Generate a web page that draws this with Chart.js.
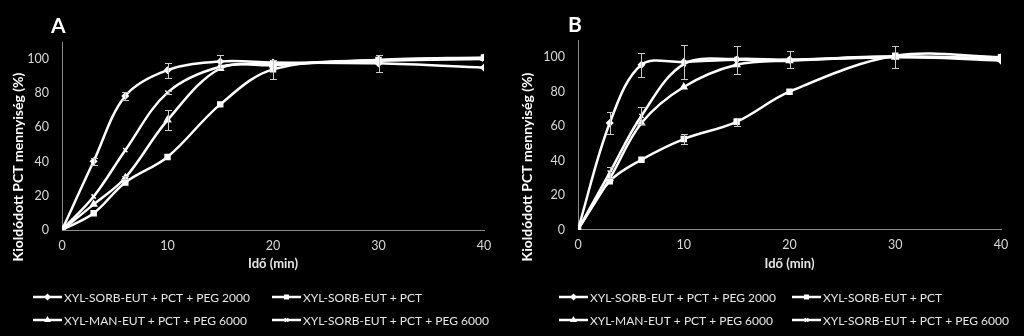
<!DOCTYPE html>
<html>
<head>
<meta charset="utf-8">
<script src="https://cdn.jsdelivr.net/npm/chart.js@4/dist/chart.umd.min.js"></script>
<style>
    body { margin: 0; background: #000; }
    .row { display: flex; width: 1024px; height: 336px; }
</style>
</head>
<body>
<div class="row">
    <canvas id="chartA" width="512" height="336"></canvas>
    <canvas id="chartB" width="512" height="336"></canvas>
</div>
<script>
// mintavételi időpontok (min)
const times = [0, 3, 6, 10, 15, 20, 30, 40];
const xTicks = [0, 10, 20, 30, 40];
const yTicks = [0, 20, 40, 60, 80, 100];

const seriesLabels = [
    'XYL-SORB-EUT + PCT + PEG 2000',
    'XYL-SORB-EUT + PCT',
    'XYL-MAN-EUT + PCT + PEG 6000',
    'XYL-SORB-EUT + PCT + PEG 6000'
];

// A panel - kioldódott mennyiség (%)
const aSorbPeg2000 = [0, 40.2, 78.4, 93.5, 98.6, 98, 97.5, 95];
const aSorbPct = [0, 9.8, 27.8, 42.7, 73.5, 94, 99.5, 101];
const aManPeg6000 = [0, 15, 30.6, 64.3, 94.5, 96.5, 99.5, 100.5];
const aSorbPeg6000 = [0, 19.6, 46.7, 80.4, 95.5, 97, 99, 100];

// A panel - szórás
const aSorbPeg2000Err = [0, 2, 2.5, 4.5, 4, 0, 5, 0];
const aSorbPctErr = [0, 0, 0, 0, 0, 5.5, 0, 0];
const aManPeg6000Err = [0, 0, 1, 6, 0, 0, 0, 0];
const aSorbPeg6000Err = [0, 0, 0, 1, 0, 0, 0, 0];

// B panel - kioldódott mennyiség (%)
const bSorbPeg2000 = [0, 61.8, 95.6, 97.2, 98.5, 98.5, 100.3, 98];
const bSorbPct = [0, 28, 40.5, 52.5, 62.5, 80, 100.8, 100];
const bManPeg6000 = [0, 29.5, 61.8, 82.7, 95.6, 98, 100, 99.5];
const bSorbPeg6000 = [0, 33, 66, 96, 99, 98.5, 100.5, 99];

// B panel - szórás
const bSorbPeg2000Err = [0, 6.3, 7, 9.8, 8, 5, 6.3, 0];
const bSorbPctErr = [0, 0, 0, 3, 2.5, 0, 0, 0];
const bManPeg6000Err = [0, 0, 0, 0, 0, 0, 0, 0];
const bSorbPeg6000Err = [0, 3, 5, 0, 0, 0, 0, 0];

const markerStyles = ['rectRot', 'rect', 'triangle', 'crossRot'];
const markerSizes = [3, 3.5, 3.5, 3];

const FONT = 'Lato, "DejaVu Sans", sans-serif';

// hibasávok a mérési pontokra
const errorBars = {
    id: 'errorBars',
    afterDatasetsDraw(chart) {
        const ctx = chart.ctx;
        const xScale = chart.scales.x;
        const yScale = chart.scales.y;
        ctx.save();
        ctx.strokeStyle = '#c8c8c8';
        ctx.lineWidth = 1;
        chart.data.datasets.forEach(ds => {
            ds.data.forEach((p, i) => {
                const e = ds.errors[i];
                if (!e) return;
                const px = Math.round(xScale.getPixelForValue(p.x)) + 0.5;
                const top = Math.round(yScale.getPixelForValue(p.y + e)) + 0.5;
                const bottom = Math.round(yScale.getPixelForValue(p.y - e)) + 0.5;
                ctx.beginPath();
                ctx.moveTo(px, top);
                ctx.lineTo(px, bottom);
                ctx.moveTo(px - 3.5, top);
                ctx.lineTo(px + 3.5, top);
                ctx.moveTo(px - 3.5, bottom);
                ctx.lineTo(px + 3.5, bottom);
                ctx.stroke();
            });
        });
        ctx.restore();
    }
};

// panel betűjel, függőleges tengelycím és jelmagyarázat
const panelDecor = {
    id: 'panelDecor',
    afterDraw(chart, args, opts) {
        const ctx = chart.ctx;
        ctx.save();
        ctx.fillStyle = '#ffffff';
        ctx.font = 'bold 21px ' + FONT;
        ctx.textAlign = 'left';
        ctx.textBaseline = 'alphabetic';
        ctx.fillText(opts.letter, opts.letterX, opts.letterY);

        ctx.save();
        ctx.translate(opts.titleX, opts.titleY);
        ctx.rotate(-Math.PI / 2);
        ctx.font = 'bold 14px ' + FONT;
        ctx.textAlign = 'center';
        ctx.textBaseline = 'middle';
        ctx.fillText(opts.yTitle, 0, 0);
        ctx.restore();

        ctx.font = '12px ' + FONT;
        ctx.textBaseline = 'middle';
        chart.data.datasets.forEach((ds, i) => {
            const x = opts.legendCols[i % 2];
            const y = opts.legendRows[Math.floor(i / 2)];
            ctx.strokeStyle = '#ffffff';
            ctx.fillStyle = '#ffffff';
            ctx.lineWidth = 2.5;
            ctx.beginPath();
            ctx.moveTo(x, y);
            ctx.lineTo(x + 29, y);
            ctx.stroke();
            ctx.lineWidth = 1.5;
            Chart.helpers.drawPoint(ctx, {
                pointStyle: ds.pointStyle,
                radius: 2.5,
                rotation: 0,
                borderWidth: 1.5
            }, x + 14.5, y);
            ctx.fillStyle = '#e6e6e6';
            ctx.fillText(ds.label, x + 31, y + 1);
        });
        ctx.restore();
    }
};

function buildChart(canvasId, values, errors, panel) {
    const ctx = document.getElementById(canvasId).getContext('2d');
    return new Chart(ctx, {
        type: 'line',
        data: {
            datasets: values.map((series, i) => ({
                label: seriesLabels[i],
                data: times.map((t, j) => ({ x: t, y: series[j] })),
                errors: errors[i],
                borderColor: '#ffffff',
                borderWidth: 2.5,
                tension: 0.35,
                fill: false,
                pointStyle: markerStyles[i],
                pointRadius: markerSizes[i],
                pointBackgroundColor: '#ffffff',
                pointBorderColor: '#ffffff',
                pointBorderWidth: 1.5
            }))
        },
        options: {
            responsive: false,
            animation: false,
            layout: {
                padding: { left: 0, right: panel.padRight, top: panel.padTop, bottom: panel.padBottom }
            },
            plugins: {
                legend: { display: false },
                tooltip: { enabled: false },
                panelDecor: panel.decor
            },
            scales: {
                x: {
                    type: 'linear',
                    min: 0,
                    max: 40,
                    afterBuildTicks: scale => { scale.ticks = xTicks.map(v => ({ value: v })); },
                    afterFit: scale => { scale.height = 50; },
                    grid: { display: false, drawTicks: false },
                    border: { display: true, color: '#8c8c8c', width: 1 },
                    ticks: { color: '#d9d9d9', padding: 8, font: { family: FONT, size: 12.5 } },
                    title: {
                        display: true,
                        text: 'Idő (min)',
                        color: '#e6e6e6',
                        padding: { top: 0, bottom: 8 },
                        font: { family: FONT, size: 13, weight: 'bold' }
                    }
                },
                y: {
                    min: 0,
                    max: 110,
                    afterBuildTicks: scale => { scale.ticks = yTicks.map(v => ({ value: v })); },
                    afterFit: scale => { scale.width = panel.axisLeft; },
                    grid: { display: false, drawTicks: false },
                    border: { display: true, color: '#8c8c8c', width: 1 },
                    ticks: { color: '#d9d9d9', padding: 13, font: { family: FONT, size: 12.5 } }
                }
            }
        },
        plugins: [errorBars, panelDecor]
    });
}

document.addEventListener('DOMContentLoaded', function () {
    buildChart('chartA',
        [aSorbPeg2000, aSorbPct, aManPeg6000, aSorbPeg6000],
        [aSorbPeg2000Err, aSorbPctErr, aManPeg6000Err, aSorbPeg6000Err],
        {
            axisLeft: 62, padRight: 28, padTop: 42, padBottom: 56,
            decor: {
                letter: 'A', letterX: 51, letterY: 33,
                yTitle: 'Kioldódott PCT mennyiség (%)', titleX: 18, titleY: 167,
                legendCols: [33, 272], legendRows: [297, 320]
            }
        });

    buildChart('chartB',
        [bSorbPeg2000, bSorbPct, bManPeg6000, bSorbPeg6000],
        [bSorbPeg2000Err, bSorbPctErr, bManPeg6000Err, bSorbPeg6000Err],
        {
            axisLeft: 66, padRight: 23, padTop: 40, padBottom: 56.5,
            decor: {
                letter: 'B', letterX: 56, letterY: 32,
                yTitle: 'Kioldódott PCT mennyiség (%)', titleX: 15, titleY: 167,
                legendCols: [47, 280], legendRows: [297, 320]
            }
        });
});
</script>
</body>
</html>
